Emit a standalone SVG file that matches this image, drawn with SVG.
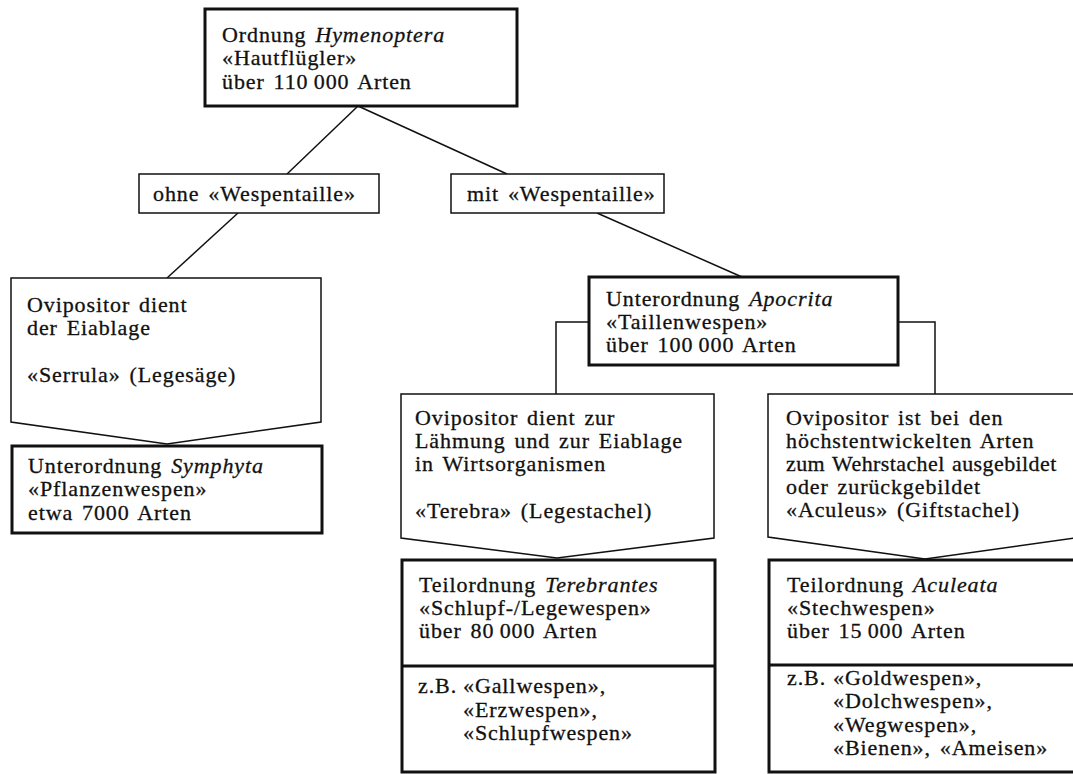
<svg xmlns="http://www.w3.org/2000/svg" width="1073" height="774" viewBox="0 0 1073 774">
<style>
text{font-family:"Liberation Serif","Times New Roman",serif;font-size:22px;fill:#111;stroke:#111;stroke-width:0.3;letter-spacing:0.9px;word-spacing:2.5px}
.i{font-style:italic}
.tight{letter-spacing:0.4px;word-spacing:1.5px}
.thick{fill:#fff;stroke:#111;stroke-width:3}
.thin{fill:#fff;stroke:#111;stroke-width:1.5}
.conn{fill:none;stroke:#111;stroke-width:1.5}
</style>
<rect width="1073" height="774" fill="#fff"/>
<g id="connectors">
<path class="conn" d="M358,106 L287,174"/>
<path class="conn" d="M358,106 L507,174"/>
<path class="conn" d="M238,213 L167,278"/>
<path class="conn" d="M597,213 L742,277"/>
<path class="conn" d="M589,322 L556,322 L556,394"/>
<path class="conn" d="M898,322 L935,322 L935,394"/>
</g>
<g id="hymenoptera">
<rect class="thick" x="205" y="9" width="312" height="97"/>
<text x="222" y="42">Ordnung <tspan class="i">Hymenoptera</tspan></text>
<text x="222" y="65">«Hautflügler»</text>
<text x="222" y="89">über 110&#8201;000 Arten</text>
</g>
<g id="ohne">
<rect class="thin" x="139" y="174" width="240" height="39"/>
<text x="153" y="201">ohne «Wespentaille»</text>
</g>
<g id="mit">
<rect class="thin" x="451" y="174" width="213" height="39"/>
<text x="467" y="201">mit «Wespentaille»</text>
</g>
<g id="serrula">
<polygon class="thin" points="11,278 321,278 321,422 167,444 11,422"/>
<text x="27" y="312">Ovipositor dient</text>
<text x="27" y="335">der Eiablage</text>
<text x="27" y="382">«Serrula» (Legesäge)</text>
</g>
<g id="symphyta">
<rect class="thick" x="12" y="446" width="310" height="87"/>
<text x="28" y="473">Unterordnung <tspan class="i">Symphyta</tspan></text>
<text x="28" y="496">«Pflanzenwespen»</text>
<text x="28" y="520">etwa 7000 Arten</text>
</g>
<g id="apocrita">
<rect class="thick" x="589" y="277" width="309" height="88"/>
<text x="606" y="306">Unterordnung <tspan class="i">Apocrita</tspan></text>
<text x="606" y="329">«Taillenwespen»</text>
<text x="606" y="352">über 100&#8201;000 Arten</text>
</g>
<g id="terebra">
<polygon class="thin" points="401,394 714,394 714,538 557,558 401,538"/>
<text x="415" y="425">Ovipositor dient zur</text>
<text x="415" y="448">Lähmung und zur Eiablage</text>
<text x="415" y="471">in Wirtsorganismen</text>
<text x="415" y="518">«Terebra» (Legestachel)</text>
</g>
<g id="terebrantes">
<rect class="thick" x="402" y="560" width="313" height="212"/>
<line class="thick" x1="402" y1="666" x2="715" y2="666"/>
<text x="419" y="592">Teilordnung <tspan class="i">Terebrantes</tspan></text>
<text x="419" y="615">«Schlupf-/Legewespen»</text>
<text x="419" y="638">über 80&#8201;000 Arten</text>
<text x="418" y="693">z.B.</text>
<text x="463" y="693">«Gallwespen»,</text>
<text x="463" y="717">«Erzwespen»,</text>
<text x="463" y="740">«Schlupfwespen»</text>
</g>
<g id="aculeus">
<polygon class="thin" points="768,394 1082,394 1082,537 925,559 768,537"/>
<text x="786" y="425">Ovipositor ist bei den</text>
<text x="786" y="448">höchstentwickelten Arten</text>
<text x="786" y="471" class="tight">zum Wehrstachel ausgebildet</text>
<text x="786" y="494">oder zurückgebildet</text>
<text x="786" y="517">«Aculeus» (Giftstachel)</text>
</g>
<g id="aculeata">
<rect class="thick" x="769" y="560" width="320" height="212"/>
<line class="thick" x1="769" y1="665" x2="1089" y2="665"/>
<text x="787" y="592">Teilordnung <tspan class="i">Aculeata</tspan></text>
<text x="787" y="615">«Stechwespen»</text>
<text x="787" y="638">über 15&#8201;000 Arten</text>
<text x="787" y="685">z.B.</text>
<text x="833" y="685">«Goldwespen»,</text>
<text x="833" y="708">«Dolchwespen»,</text>
<text x="833" y="732">«Wegwespen»,</text>
<text x="833" y="755">«Bienen», «Ameisen»</text>
</g>
</svg>
